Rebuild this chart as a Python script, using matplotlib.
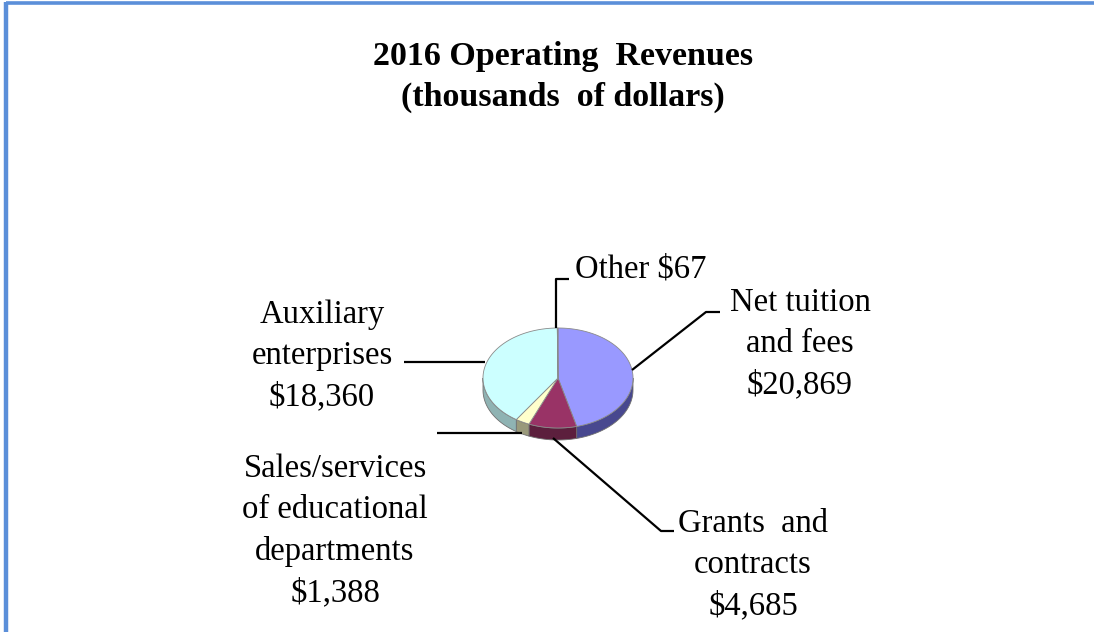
import numpy as np
import matplotlib
matplotlib.use("Agg")
import matplotlib.pyplot as plt
from matplotlib.patches import Polygon

# ---- data ----
categories = ["Net tuition and fees", "Grants and contracts",
              "Sales/services of educational departments",
              "Auxiliary enterprises", "Other"]
values = [20869, 4685, 1388, 18360, 67]
label_texts = ["Net tuition\nand fees\n$20,869",
               "Grants  and\ncontracts\n$4,685",
               "Sales/services\nof educational\ndepartments\n$1,388",
               "Auxiliary\nenterprises\n$18,360",
               "Other $67"]
title_text = "2016 Operating  Revenues\n(thousands  of dollars)"

# ---- styles ----
top_colors = ["#9999FF", "#993366", "#FFFFCC", "#CCFFFF", "#CCFFFF"]
side_colors = ["#48488F", "#5C1F3D", "#99997A", "#8FB3B3", "#8FB3B3"]
W, H = 1094, 632
cx, cy, rx, ry, depth = 558, 378, 75, 50, 12

fig = plt.figure(figsize=(W / 100, H / 100), dpi=100)
ax = fig.add_axes([0, 0, 1, 1])
ax.set_xlim(0, W)
ax.set_ylim(H, 0)
ax.axis("off")

serif = ["Liberation Serif", "DejaVu Serif"]

# border
ax.plot([6, W], [3, 3], color="#5B8FD9", lw=2.6, solid_capstyle="butt")
ax.plot([6.3, 6.3], [2, H], color="#5B8FD9", lw=3.2, solid_capstyle="butt")

ax.text(563, 77, title_text, ha="center", va="center", fontsize=24.5,
        fontweight="bold", family=serif, linespacing=1.38)

# pie geometry from values
vals = np.array(values, dtype=float)
fr = vals / vals.sum()
ends = 90 - 360 * np.cumsum(fr)
starts = np.concatenate([[90], ends[:-1]])


def ept(t_deg, dy=0.0):
    t = np.radians(t_deg)
    return cx + rx * np.cos(t), cy - ry * np.sin(t) + dy


# sides (front half only: angles in [-180, 0])
for a0, a1, sc in zip(starts, ends, side_colors):
    lo, hi = min(a0, a1), max(a0, a1)
    seg_lo = max(lo, -180)
    seg_hi = min(hi, 0)
    if seg_hi <= seg_lo:
        continue
    ts = np.linspace(seg_hi, seg_lo, 60)
    xs, ys = ept(ts)
    xb, yb = ept(ts[::-1], depth)
    pts = np.column_stack([np.concatenate([xs, xb]), np.concatenate([ys, yb])])
    ax.add_patch(Polygon(pts, closed=True, facecolor=sc, edgecolor="#707070",
                         lw=0.6, zorder=2))

# tops
for a0, a1, tc in zip(starts, ends, top_colors):
    ts = np.linspace(a0, a1, max(3, int(abs(a1 - a0)) * 2))
    xs, ys = ept(ts)
    pts = np.column_stack([np.concatenate([[cx], xs]), np.concatenate([[cy], ys])])
    ax.add_patch(Polygon(pts, closed=True, facecolor=tc, edgecolor="#8A8A8A",
                         lw=0.6, zorder=3))

# leader lines and labels
lc = dict(color="black", lw=1.6, zorder=4, solid_capstyle="butt")
fs = 23.5
ls = 1.45
# Net tuition
ax.plot([632, 706, 720], [370, 312, 312], **lc)
ax.text(800, 344, label_texts[0], ha="center", va="center", fontsize=fs,
        family=serif, linespacing=ls)
# Grants
ax.plot([553, 661, 674], [438, 531, 531], **lc)
ax.text(753, 565, label_texts[1], ha="center", va="center", fontsize=fs,
        family=serif, linespacing=ls)
# Sales
ax.plot([437, 522], [433, 433], **lc)
ax.text(335, 531, label_texts[2], ha="center", va="center", fontsize=fs,
        family=serif, linespacing=ls)
# Auxiliary
ax.plot([404, 485], [362, 362], **lc)
ax.text(322, 356, label_texts[3], ha="center", va="center", fontsize=fs,
        family=serif, linespacing=ls)
# Other
ax.plot([556, 556, 569], [328, 279, 279], **lc)
ax.text(575, 269, label_texts[4], ha="left", va="center", fontsize=fs,
        family=serif)

fig.savefig("out.png", dpi=100, facecolor="white")
